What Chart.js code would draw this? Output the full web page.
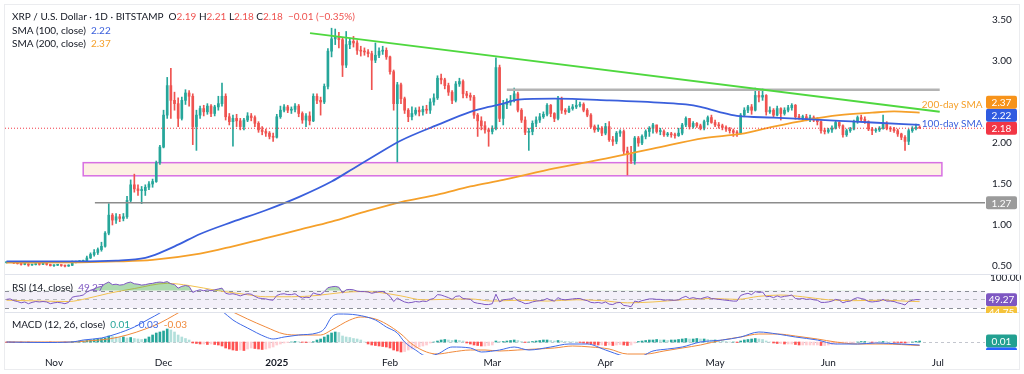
<!DOCTYPE html>
<html>
<head>
<meta charset="utf-8">
<title>XRP / U.S. Dollar · 1D · BITSTAMP</title>
<script src="https://cdn.jsdelivr.net/npm/chart.js@4.4.1/dist/chart.umd.min.js"></script>
<style>
    html, body { margin: 0; padding: 0; background: #ffffff; }
    #chart-wrap { position: relative; width: 1024px; height: 374px; overflow: hidden; background: #ffffff; }
    #chart-wrap canvas { position: absolute; left: 0; }
    #frame { position: absolute; left: 4px; top: 4px; width: 1016px; height: 366px; border: 1px solid #ebecef; box-sizing: border-box; pointer-events: none; }
</style>
</head>
<body>
<div id="chart-wrap">
    <canvas id="price-chart" width="1024" height="275" style="top:0;width:1024px;height:275px"></canvas>
    <canvas id="rsi-chart" width="1024" height="38" style="top:275px;width:1024px;height:38px"></canvas>
    <canvas id="macd-chart" width="1024" height="61" style="top:313px;width:1024px;height:61px"></canvas>
    <div id="frame"></div>
</div>
<script>
// Daily candles, index 0 = 19 Oct 2024 ... 250 = 26 Jun 2025
const firstOpen = 0.54;
const closes = [
    0.545, 0.548, 0.536, 0.530, 0.519, 0.522, 0.512, 0.517, 0.522, 0.520, 0.521, 0.519, 0.503,
    0.509, 0.510, 0.506, 0.499, 0.508,
    0.544, 0.551, 0.555, 0.563, 0.598, 0.64, 0.665, 0.70, 0.74, 0.90,
    1.12, 1.06, 1.10, 1.08, 1.10,
    1.30, 1.49, 1.44, 1.42, 1.42, 1.46, 1.50, 1.53, 1.76, 1.95,
    2.34, 2.70, 2.52, 2.48, 2.30, 2.52, 2.61, 2.57, 2.20, 2.34,
    2.42, 2.38, 2.45, 2.36, 2.44, 2.48, 2.57, 2.32, 2.26, 2.30,
    2.27, 2.20, 2.28, 2.33, 2.31, 2.24, 2.16, 2.14, 2.12, 2.08, 2.07,
    2.32, 2.40, 2.44, 2.40, 2.41, 2.45, 2.36, 2.28, 2.33, 2.27,
    2.57, 2.52, 2.50, 2.69, 3.12, 3.27, 3.30, 3.26, 2.95, 3.20,
    3.24, 3.22, 3.13, 3.12, 3.11, 3.09, 3.01, 3.07, 3.12, 3.13, 3.05,
    2.87, 2.48, 2.71, 2.54, 2.40, 2.32, 2.36, 2.40, 2.38, 2.41,
    2.40, 2.50, 2.55, 2.79, 2.77, 2.70, 2.62, 2.52, 2.72, 2.75,
    2.60, 2.58, 2.56, 2.34, 2.27, 2.21, 2.16, 2.14,
    2.18, 2.92, 2.30, 2.47, 2.50, 2.52, 2.60, 2.40, 2.28, 2.13,
    2.14, 2.24, 2.28, 2.32, 2.35, 2.46, 2.36, 2.30, 2.54, 2.40,
    2.38, 2.42, 2.44, 2.46, 2.47, 2.40, 2.34, 2.20, 2.16, 2.18, 2.12,
    2.20, 2.04, 2.02, 2.12, 2.14, 1.90, 1.86, 1.78, 2.06, 2.00,
    2.08, 2.14, 2.18, 2.22, 2.14, 2.14, 2.10, 2.11, 2.10, 2.09,
    2.12, 2.22, 2.30, 2.20, 2.24, 2.21, 2.18, 2.26, 2.31, 2.25,
    2.22, 2.21, 2.19, 2.17, 2.15, 2.13, 2.12, 2.34, 2.40, 2.44, 2.40,
    2.58, 2.56, 2.58, 2.38, 2.40, 2.34, 2.42, 2.36, 2.40, 2.43,
    2.46, 2.32, 2.31, 2.32, 2.29, 2.31, 2.28, 2.26, 2.15, 2.14,
    2.16, 2.18, 2.25, 2.21, 2.10, 2.15, 2.17, 2.26, 2.31, 2.29,
    2.26, 2.17, 2.15, 2.16, 2.18, 2.24, 2.18, 2.17, 2.15, 2.11,
    2.07, 2.02, 2.15, 2.18, 2.19, 2.18
];
const highs = [
    0.55, 0.555, 0.552, 0.54, 0.533, 0.528, 0.528, 0.52, 0.525, 0.525, 0.535, 0.53, 0.522,
    0.514, 0.518, 0.512, 0.51, 0.515,
    0.56, 0.56, 0.565, 0.572, 0.62, 0.66, 0.70, 0.72, 0.79, 0.92,
    1.26, 1.14, 1.14, 1.13, 1.14,
    1.35, 1.55, 1.62, 1.49, 1.47, 1.49, 1.53, 1.56, 1.78, 1.97,
    2.40, 2.80, 2.91, 2.62, 2.55, 2.56, 2.65, 2.64, 2.60, 2.40,
    2.45, 2.46, 2.48, 2.47, 2.46, 2.57, 2.73, 2.60, 2.36, 2.34,
    2.35, 2.30, 2.30, 2.37, 2.36, 2.33, 2.26, 2.20, 2.17, 2.14, 2.12,
    2.35, 2.45, 2.47, 2.46, 2.44, 2.48, 2.47, 2.38, 2.36, 2.38,
    2.60, 2.60, 2.56, 2.72, 3.15, 3.40, 3.39, 3.35, 3.28, 3.36,
    3.28, 3.30, 3.25, 3.18, 3.16, 3.14, 3.12, 3.22, 3.16, 3.18, 3.16,
    3.06, 2.89, 2.74, 2.73, 2.56, 2.42, 2.44, 2.43, 2.44, 2.45,
    2.46, 2.54, 2.60, 2.82, 2.84, 2.79, 2.73, 2.64, 2.75, 2.79,
    2.77, 2.63, 2.61, 2.58, 2.36, 2.32, 2.26, 2.18,
    2.21, 3.04, 2.95, 2.52, 2.54, 2.58, 2.67, 2.62, 2.42, 2.32,
    2.18, 2.27, 2.32, 2.36, 2.38, 2.48, 2.47, 2.37, 2.57, 2.56,
    2.42, 2.45, 2.47, 2.52, 2.50, 2.49, 2.42, 2.36, 2.22, 2.22, 2.20,
    2.24, 2.26, 2.08, 2.14, 2.16, 2.16, 1.95, 1.96, 2.08, 2.08,
    2.10, 2.16, 2.20, 2.24, 2.22, 2.18, 2.16, 2.13, 2.13, 2.12,
    2.18, 2.24, 2.32, 2.30, 2.26, 2.25, 2.23, 2.28, 2.33, 2.34,
    2.28, 2.25, 2.23, 2.21, 2.19, 2.17, 2.15, 2.36, 2.43, 2.46, 2.47,
    2.67, 2.65, 2.66, 2.59, 2.44, 2.42, 2.45, 2.43, 2.43, 2.46,
    2.48, 2.47, 2.35, 2.34, 2.35, 2.34, 2.33, 2.31, 2.27, 2.18,
    2.18, 2.21, 2.27, 2.26, 2.22, 2.17, 2.19, 2.28, 2.33, 2.34,
    2.32, 2.27, 2.19, 2.18, 2.20, 2.34, 2.26, 2.20, 2.19, 2.17,
    2.12, 2.09, 2.17, 2.20, 2.23, 2.21
];
const lows = [
    0.535, 0.54, 0.53, 0.523, 0.51, 0.514, 0.497, 0.508, 0.512, 0.51, 0.515, 0.51, 0.50,
    0.495, 0.505, 0.496, 0.49, 0.495,
    0.505, 0.537, 0.545, 0.55, 0.56, 0.59, 0.62, 0.64, 0.68, 0.73,
    0.88, 1.00, 1.02, 1.04, 1.05,
    1.08, 1.28, 1.40, 1.36, 1.26, 1.36, 1.43, 1.46, 1.52, 1.74,
    1.94, 2.30, 2.30, 2.40, 2.20, 2.28, 2.47, 2.45, 1.98, 1.91,
    2.30, 2.33, 2.35, 2.32, 2.33, 2.40, 2.45, 2.28, 2.22, 1.96,
    2.20, 2.16, 2.16, 2.26, 2.27, 2.20, 2.13, 2.10, 2.08, 2.05, 2.02,
    2.06, 2.30, 2.38, 2.37, 2.36, 2.38, 2.32, 2.24, 2.20, 2.22,
    2.26, 2.48, 2.34, 2.48, 2.66, 3.05, 3.20, 3.16, 2.81, 2.92,
    3.15, 3.17, 3.08, 3.06, 3.07, 3.05, 2.65, 2.98, 3.04, 3.08, 3.02,
    2.84, 2.40, 1.77, 2.48, 2.36, 2.26, 2.28, 2.34, 2.33, 2.34,
    2.36, 2.36, 2.46, 2.53, 2.72, 2.66, 2.58, 2.48, 2.50, 2.69,
    2.55, 2.55, 2.52, 2.30, 2.08, 2.16, 2.12, 1.96,
    2.11, 2.16, 2.26, 2.22, 2.42, 2.46, 2.50, 2.38, 2.25, 2.10,
    1.91, 2.10, 2.20, 2.25, 2.30, 2.33, 2.32, 2.26, 2.28, 2.36,
    2.35, 2.37, 2.40, 2.42, 2.44, 2.38, 2.32, 2.18, 2.13, 2.14, 2.09,
    2.10, 2.02, 1.97, 1.99, 2.08, 1.86, 1.61, 1.75, 1.74, 1.96,
    1.98, 2.05, 2.08, 2.12, 2.12, 2.10, 2.08, 2.08, 2.07, 2.06,
    2.08, 2.10, 2.20, 2.17, 2.18, 2.19, 2.16, 2.16, 2.22, 2.24,
    2.20, 2.18, 2.16, 2.14, 2.12, 2.08, 2.08, 2.11, 2.32, 2.37, 2.35,
    2.39, 2.50, 2.52, 2.34, 2.36, 2.32, 2.33, 2.28, 2.34, 2.38,
    2.40, 2.29, 2.29, 2.27, 2.27, 2.26, 2.26, 2.22, 2.12, 2.11,
    2.12, 2.13, 2.17, 2.19, 2.07, 2.08, 2.13, 2.16, 2.24, 2.26,
    2.24, 2.15, 2.10, 2.13, 2.14, 2.17, 2.16, 2.14, 2.13, 2.08,
    2.04, 1.91, 1.98, 2.13, 2.16, 2.18
];

// Moving averages (day index, value)
const sma100Days = [0, 20, 30, 38, 42, 47, 53, 62, 71, 80, 89, 95, 101, 108, 118, 127, 132, 136, 140, 150, 165, 180, 186, 190, 195, 200, 210, 219, 228, 237, 250];
const sma100Values = [0.555, 0.555, 0.565, 0.60, 0.66, 0.76, 0.89, 1.04, 1.18, 1.34, 1.53, 1.69, 1.85, 2.03, 2.22, 2.38, 2.44, 2.48, 2.53, 2.54, 2.52, 2.49, 2.47, 2.44, 2.38, 2.33, 2.31, 2.29, 2.27, 2.25, 2.22];
const sma200Days = [0, 20, 30, 40, 53, 62, 71, 80, 89, 98, 108, 118, 127, 136, 150, 164, 177, 191, 201, 210, 219, 228, 237, 243, 250];
const sma200Values = [0.54, 0.545, 0.555, 0.575, 0.65, 0.74, 0.84, 0.94, 1.04, 1.16, 1.28, 1.37, 1.47, 1.55, 1.69, 1.81, 1.93, 2.06, 2.11, 2.20, 2.28, 2.34, 2.37, 2.385, 2.37];

// RSI (14) daily and its moving average
const rsiValues = [
    50, 51, 47, 45, 42, 44, 40, 43, 45, 44, 45, 44, 40, 42, 43, 42, 40, 43,
    55, 57, 58, 60, 67, 71, 74, 78, 80, 86, 90, 84, 85, 83, 84, 88, 90, 86, 85, 83,
    84, 86, 87, 89, 90, 89, 91, 86, 84, 76, 80, 82, 80, 66, 70, 72,
    70, 72, 70, 72, 74, 76, 64, 62, 63, 61, 58, 61, 63, 62, 57, 53, 52, 51, 49, 48,
    59, 62, 63, 61, 61, 63, 57, 53, 55, 54, 65, 62, 61, 68, 77, 79, 80, 78,
    65, 72, 73, 72, 69, 68, 68, 67, 64, 66, 68, 68, 64,
    57, 45, 53, 48, 44, 42, 43, 45, 44, 46, 45, 50, 52, 61, 60, 57, 54, 50, 57, 58,
    52, 51, 50, 43, 41, 40, 38, 38, 40, 62, 44, 49, 50, 51, 54, 47, 44, 40, 41, 44,
    46, 47, 48, 52, 48, 46, 54, 50, 49, 50, 51, 52, 52, 49, 47, 43, 42, 43, 41, 44,
    39, 38, 42, 43, 36, 35, 33, 46, 44, 47, 49, 51, 51, 50, 50, 48, 49, 48, 48, 49,
    54, 57, 52, 54, 52, 51, 54, 56, 52, 51, 50, 49, 48, 47, 46, 46,
    59, 62, 64, 61, 68, 66, 67, 56, 57, 54, 58, 55, 57, 58, 60, 52, 51, 52, 50, 51,
    49, 48, 43, 43, 44, 46, 50, 48, 42, 45, 46, 51, 54, 52, 50, 45, 44, 45, 46, 50,
    46, 46, 45, 42, 40, 37, 45, 48, 49.5, 49.27
];
const rsiMaDays = [0, 10, 17, 22, 28, 35, 44, 50, 58, 65, 71, 78, 85, 92, 97, 102, 108, 114, 120, 127, 133, 140, 148, 156, 163, 170, 177, 185, 193, 200, 206, 212, 218, 225, 232, 240, 246, 250];
const rsiMaValues = [48, 46, 45, 52, 64, 75, 87, 82, 70, 62, 56, 56, 59, 66, 68, 66, 58, 49, 50, 51, 46, 48, 46, 49, 47, 42, 44, 49, 52, 50, 57, 60, 56, 49, 47, 48, 46, 44.75];

// MACD (12, 26, close)
const macdDays = [0, 10, 18, 21, 26, 30, 35, 39, 42, 44, 48, 52, 56, 59, 62, 66, 71, 73, 76, 80, 85, 87, 89, 91, 96, 101, 104, 107, 109, 112, 115, 118, 122, 127, 130, 135, 139, 143, 149, 154, 159, 164, 169, 173, 177, 181, 185, 190, 196, 201, 206, 211, 216, 222, 227, 233, 238, 245, 250];
const macdValues = [0, -0.005, 0, 0.02, 0.04, 0.08, 0.15, 0.23, 0.29, 0.34, 0.45, 0.45, 0.38, 0.31, 0.22, 0.14, 0.05, 0.03, 0.05, 0.07, 0.09, 0.13, 0.25, 0.28, 0.27, 0.22, 0.15, 0.09, 0, -0.08, -0.14, -0.12, -0.05, -0.06, -0.10, -0.08, -0.05, -0.08, -0.05, -0.02, -0.02, -0.08, -0.14, -0.15, -0.09, -0.07, -0.05, 0, 0.02, 0.05, 0.10, 0.08, 0.05, 0.02, -0.02, -0.02, -0.01, -0.02, -0.03];
const signalDays = [0, 18, 22, 28, 33, 38, 42, 46, 50, 56, 62, 66, 71, 76, 80, 86, 89, 94, 97, 101, 104, 108, 111, 115, 118, 122, 127, 131, 135, 140, 145, 150, 155, 160, 165, 170, 175, 180, 185, 190, 196, 201, 206, 211, 216, 222, 227, 233, 240, 250];
const signalValues = [0, 0, 0.01, 0.03, 0.07, 0.13, 0.19, 0.27, 0.35, 0.40, 0.30, 0.23, 0.15, 0.08, 0.07, 0.07, 0.12, 0.22, 0.25, 0.23, 0.18, 0.08, -0.02, -0.10, -0.12, -0.10, -0.08, -0.08, -0.09, -0.08, -0.07, -0.06, -0.04, -0.05, -0.07, -0.12, -0.12, -0.09, -0.06, -0.03, 0.02, 0.05, 0.08, 0.08, 0.06, 0.03, 0, -0.02, -0.02, -0.035];
const histValues = [
    -0.003, -0.004, -0.005, -0.005, -0.006, -0.005, -0.006, -0.005, -0.004, -0.003, -0.003, -0.002, -0.003, -0.002, -0.002, -0.002, -0.003, -0.002,
    0.004, 0.006, 0.008, 0.01, 0.015, 0.02, 0.025, 0.03, 0.035, 0.04, 0.06, 0.055, 0.05,
    0.045, 0.05, 0.04, 0.045, 0.035, 0.03, 0.025, 0.03,
    0.05, 0.07, 0.09, 0.1, 0.11, 0.13, 0.12,
    0.1, 0.07, 0.05, 0.035, 0.02,
    -0.01, -0.015, -0.02, -0.02, -0.025, -0.02, -0.025,
    -0.03, -0.04, -0.06, -0.07, -0.08, -0.085, -0.08, -0.085,
    -0.07, -0.06, -0.065, -0.07, -0.075, -0.07, -0.06, -0.05,
    -0.03, -0.02, -0.01, -0.005, 0, 0.005, 0.002, -0.003, -0.005, -0.004, 0.003,
    0.02, 0.03, 0.05, 0.07, 0.09, 0.1, 0.095,
    0.06, 0.05, 0.045, 0.035, 0.03, 0.02,
    0, -0.02, -0.03, -0.035, -0.04, -0.045, -0.05, -0.06, -0.08, -0.09, -0.1, -0.095,
    -0.08, -0.07, -0.06, -0.05, -0.04, -0.03,
    -0.01, 0, 0.01, 0.02, 0.025, 0.02, 0.015, 0.02, 0.015, 0.01,
    -0.01, -0.02, -0.03, -0.035, -0.04, -0.04, -0.035, -0.03,
    0.01, 0.005, 0.005, 0.01, 0.015, 0.02, 0.015,
    0.005, -0.005, 0, 0.005, 0.01, 0.015, 0.02, 0.02, 0.015, 0.01,
    0.015, 0.01, 0.005, 0.003, 0.002, 0, -0.005, -0.01, -0.015, -0.02,
    -0.025, -0.03, -0.03, -0.035, -0.03, -0.035, -0.03, -0.025, -0.03, -0.035,
    -0.03, -0.01, 0.005, 0.01, 0.015, 0.02, 0.02, 0.025, 0.02, 0.02,
    0.015, 0.02, 0.02, 0.025, 0.03, 0.035, 0.03, 0.03, 0.035, 0.03, 0.03, 0.025, 0.02, 0.02, 0.015,
    0.01, 0.005, 0, 0, -0.005, 0.01, 0.02, 0.025, 0.03, 0.035, 0.03, 0.025,
    0.01, 0, -0.01, -0.015, -0.015, -0.02, -0.02, -0.02, -0.025, -0.03, -0.03, -0.03, -0.03, -0.03, -0.03, -0.035, -0.035, -0.03,
    -0.025, -0.02, -0.015, -0.015, -0.01, -0.01, -0.005, 0, 0.005, 0.005, 0, -0.005, -0.005, 0, 0.005, 0.003, 0, -0.003, -0.005, -0.008,
    -0.01, -0.005, 0, 0.006, 0.01
];

// Drawings on the price pane (day index / price)
const trendDays = [83.1, 255.5];
const trendPrices = [3.34, 2.38];
const resistanceDays = [137, 255.5];
const resistanceLevel = 2.65;
const supportDays = [24.2, 267.9];
const supportLevel = 1.27;
const zoneDays = [21, 256.1];
const zonePrices = [1.60, 1.76];

// Axes
const priceTicks = [0.5, 1.0, 1.5, 2.0, 3.0, 3.5];
const monthTicks = [13, 43, 74, 105, 133, 164, 194, 225, 255];
const monthLabels = ['Nov', 'Dec', '2025', 'Feb', 'Mar', 'Apr', 'May', 'Jun', 'Jul'];

// Legend texts
const headerTitle = 'XRP / U.S. Dollar · 1D · BITSTAMP';
const headerOHLC = [['O', '2.19'], ['H', '2.21'], ['L', '2.18'], ['C', '2.18']];
const headerChange = '−0.01 (−0.35%)';
const macdLegend = ['0.01', '-0.03', '-0.03'];

// View ranges (match the panes of the reference)
const X_MIN = -0.41, X_MAX = 267.9;
const PRICE_MIN = 0.39, PRICE_MAX = 3.683;
const RSI_MIN = 18.5, RSI_MAX = 106.3;
const MACD_MIN = -0.13, MACD_MAX = 0.29;

// Colours
const UP = '#26a69a', DOWN = '#ef5350';
const TEXT = '#131722';
const BLUE = '#3a5fdc', ORANGE = '#f5a02a', GREEN_LINE = '#4fd83f';
const RSI_COLOR = '#7e57c2', RSI_MA = '#f2c14e';
const MACD_BLUE = '#3f6ae8', MACD_ORANGE = '#f08a3c';

Chart.defaults.font.family = "Lato, 'Liberation Sans', sans-serif";
Chart.defaults.font.size = 10;
Chart.defaults.color = TEXT;
Chart.defaults.animation = false;
Chart.defaults.events = [];
Chart.defaults.plugins.legend.display = false;
Chart.defaults.plugins.tooltip.enabled = false;

const dayIdx = closes.map((_, i) => i);
const opens = closes.map((c, i) => (i === 0 ? firstOpen : closes[i - 1]));
const candleColors = closes.map((c, i) => (c >= opens[i] ? UP : DOWN));
const lastClose = closes[closes.length - 1];

function pts(days, values) {
    return days.map((d, k) => ({ x: d, y: values[k] }));
}

function hiddenX() {
    return { type: 'linear', min: X_MIN, max: X_MAX, display: false, offset: false, grid: { display: false } };
}

function lineSet(data, color, width, extra) {
    return Object.assign({
        type: 'line', data: data, borderColor: color, borderWidth: width,
        pointRadius: 0, fill: false, order: 0
    }, extra || {});
}

function drawSegments(ctx, x, y, segments) {
    segments.forEach(([text, color]) => {
        ctx.fillStyle = color;
        ctx.fillText(text, x, y);
        x += ctx.measureText(text).width;
    });
}

// Value tags on the right axis, pushed apart so they don't overlap
function drawTags(ctx, tags, direction, clipTop, clipBottom) {
    ctx.save();
    ctx.beginPath();
    ctx.rect(984, clipTop, 40, clipBottom - clipTop);
    ctx.clip();
    ctx.font = "10px Lato, 'Liberation Sans', sans-serif";
    ctx.textAlign = 'center';
    ctx.textBaseline = 'middle';
    let prev = null;
    tags.forEach(tag => {
        let y = tag.y;
        if (prev !== null) {
            y = direction < 0 ? Math.min(y, prev - 13) : Math.max(y, prev + 13);
        }
        prev = y;
        ctx.fillStyle = tag.color;
        ctx.beginPath();
        ctx.roundRect(986, y - 6.5, 31, 13, 2);
        ctx.fill();
        ctx.fillStyle = '#ffffff';
        ctx.fillText(tag.text, 1001.5, y + 0.5);
    });
    ctx.restore();
}

// ---------- price pane ----------
const pricePane = {
    id: 'pricePane',
    beforeDatasetsDraw(chart) {
        const { ctx, scales: { x, y } } = chart;
        const left = x.getPixelForValue(zoneDays[0]), right = x.getPixelForValue(zoneDays[1]);
        const top = y.getPixelForValue(zonePrices[1]), bottom = y.getPixelForValue(zonePrices[0]);
        ctx.save();
        ctx.fillStyle = '#fdf0e3';
        ctx.fillRect(left, top, right - left, bottom - top);
        ctx.strokeStyle = '#d770e3';
        ctx.lineWidth = 1.5;
        ctx.strokeRect(left, top, right - left, bottom - top);
        ctx.restore();
    },
    afterDraw(chart) {
        const { ctx, chartArea: a, scales: { x, y } } = chart;
        ctx.save();
        ctx.font = "10px Lato, 'Liberation Sans', sans-serif";
        ctx.textBaseline = 'middle';

        // price scale labels
        ctx.fillStyle = TEXT;
        ctx.textAlign = 'left';
        priceTicks.forEach(v => ctx.fillText(v.toFixed(2), 992, y.getPixelForValue(v)));

        // SMA notes next to the lines
        ctx.fillStyle = ORANGE;
        ctx.fillText('200-day SMA', x.getPixelForValue(250.6), y.getPixelForValue(2.46));
        ctx.fillStyle = BLUE;
        ctx.fillText('100-day SMA', x.getPixelForValue(250.6), y.getPixelForValue(2.24));

        // legend
        const ohlc = [];
        headerOHLC.forEach(([k, v]) => { ohlc.push([' ' + k, TEXT]); ohlc.push([v, DOWN]); });
        drawSegments(ctx, 12, 17, [[headerTitle, TEXT], [' ', TEXT]].concat(ohlc, [['  ' + headerChange, DOWN]]));
        drawSegments(ctx, 12, 31, [['SMA (100, close)', TEXT], ['  ' + sma100Values[sma100Values.length - 1].toFixed(2), BLUE]]);
        drawSegments(ctx, 12, 44, [['SMA (200, close)', TEXT], ['  ' + sma200Values[sma200Values.length - 1].toFixed(2), ORANGE]]);

        // pane separator
        ctx.strokeStyle = '#e0e3eb';
        ctx.lineWidth = 1;
        ctx.beginPath();
        ctx.moveTo(4, a.bottom - 0.5);
        ctx.lineTo(1020, a.bottom - 0.5);
        ctx.stroke();
        ctx.restore();

        drawTags(ctx, [
            { y: y.getPixelForValue(lastClose), text: lastClose.toFixed(2), color: '#f23645' },
            { y: y.getPixelForValue(sma100Values[sma100Values.length - 1]), text: sma100Values[sma100Values.length - 1].toFixed(2), color: '#2f5be0' },
            { y: y.getPixelForValue(sma200Values[sma200Values.length - 1]), text: sma200Values[sma200Values.length - 1].toFixed(2), color: '#f7931a' }
        ], -1, a.top, a.bottom);
        drawTags(ctx, [{ y: y.getPixelForValue(supportLevel), text: supportLevel.toFixed(2), color: '#9b9b9b' }], -1, a.top, a.bottom);
    }
};

new Chart(document.getElementById('price-chart'), {
    type: 'bar',
    data: {
        datasets: [
            lineSet(pts(trendDays, trendPrices), GREEN_LINE, 2),
            lineSet(pts(resistanceDays, [resistanceLevel, resistanceLevel]), '#b3b3b3', 2.5),
            lineSet(pts(supportDays, [supportLevel, supportLevel]), '#8c8c8c', 1.5),
            lineSet(pts([X_MIN, X_MAX], [lastClose, lastClose]), '#f23645', 1, { borderDash: [1, 2] }),
            lineSet(pts(sma100Days, sma100Values), BLUE, 1.8, { cubicInterpolationMode: 'monotone' }),
            lineSet(pts(sma200Days, sma200Values), ORANGE, 1.8, { cubicInterpolationMode: 'monotone' }),
            {
                label: 'bodies',
                data: dayIdx.map(i => ({ x: i, y: [opens[i], closes[i]] })),
                backgroundColor: candleColors,
                barThickness: 2,
                minBarLength: 1,
                grouped: false,
                order: 1
            },
            {
                label: 'wicks',
                data: dayIdx.map(i => ({ x: i, y: [lows[i], highs[i]] })),
                backgroundColor: candleColors,
                barThickness: 1,
                grouped: false,
                order: 2
            }
        ]
    },
    options: {
        responsive: false,
        layout: { padding: { left: 5, right: 39, top: 5, bottom: 0 } },
        scales: {
            x: hiddenX(),
            y: { type: 'linear', display: false, min: PRICE_MIN, max: PRICE_MAX }
        }
    },
    plugins: [pricePane]
});

// ---------- RSI pane ----------
const rsiPane = {
    id: 'rsiPane',
    beforeDatasetsDraw(chart) {
        const { ctx, chartArea: a, scales: { y } } = chart;
        const y70 = y.getPixelForValue(70), y50 = y.getPixelForValue(50), y30 = y.getPixelForValue(30);
        ctx.save();
        ctx.fillStyle = 'rgba(126, 87, 194, 0.09)';
        ctx.fillRect(a.left, y70, a.right - a.left, y30 - y70);
        ctx.lineWidth = 1;
        ctx.setLineDash([4, 4]);
        [[y70, '#8a8d96'], [y50, '#b7b9c0'], [y30, '#8a8d96']].forEach(([yy, c]) => {
            ctx.strokeStyle = c;
            ctx.beginPath();
            ctx.moveTo(a.left, Math.round(yy) + 0.5);
            ctx.lineTo(a.right, Math.round(yy) + 0.5);
            ctx.stroke();
        });
        ctx.restore();
    },
    afterDraw(chart) {
        const { ctx, chartArea: a, scales: { y } } = chart;
        ctx.save();
        ctx.font = "10px Lato, 'Liberation Sans', sans-serif";
        ctx.textBaseline = 'middle';
        ctx.textAlign = 'left';
        ctx.fillStyle = TEXT;
        ctx.fillText('100.00', 990, y.getPixelForValue(100));
        drawSegments(ctx, 12, 13, [['RSI (14, close)', TEXT], ['  ' + rsiValues[rsiValues.length - 1].toFixed(2), RSI_COLOR]]);
        ctx.strokeStyle = '#e0e3eb';
        ctx.beginPath();
        ctx.moveTo(4, a.bottom - 0.5);
        ctx.lineTo(1020, a.bottom - 0.5);
        ctx.stroke();
        ctx.restore();
        drawTags(ctx, [
            { y: y.getPixelForValue(rsiValues[rsiValues.length - 1]), text: rsiValues[rsiValues.length - 1].toFixed(2), color: RSI_COLOR },
            { y: y.getPixelForValue(rsiMaValues[rsiMaValues.length - 1]), text: rsiMaValues[rsiMaValues.length - 1].toFixed(2), color: '#f5c33b' }
        ], 1, a.top, a.bottom);
    }
};

new Chart(document.getElementById('rsi-chart'), {
    type: 'line',
    data: {
        datasets: [
            lineSet(dayIdx.map(i => ({ x: i, y: rsiValues[i] })), RSI_COLOR, 1, {
                fill: { target: { value: 70 }, above: 'rgba(76, 175, 80, 0.45)', below: 'rgba(0, 0, 0, 0)' }
            }),
            lineSet(pts(rsiMaDays, rsiMaValues), RSI_MA, 1, { cubicInterpolationMode: 'monotone', order: 1 })
        ]
    },
    options: {
        responsive: false,
        layout: { padding: { left: 5, right: 39, top: 0, bottom: 0 } },
        scales: {
            x: hiddenX(),
            y: { type: 'linear', display: false, min: RSI_MIN, max: RSI_MAX }
        }
    },
    plugins: [rsiPane]
});

// ---------- MACD pane + time axis ----------
const histColors = histValues.map((v, i) => {
    const prev = i > 0 ? histValues[i - 1] : 0;
    if (v >= 0) return v >= prev ? UP : '#b2dfdb';
    return v < prev ? '#ff5252' : '#ffcdd2';
});

const macdPane = {
    id: 'macdPane',
    beforeDatasetsDraw(chart) {
        const { ctx, chartArea: a, scales: { y } } = chart;
        const y0 = Math.round(y.getPixelForValue(0)) + 0.5;
        ctx.save();
        ctx.strokeStyle = '#c3c6ce';
        ctx.setLineDash([3, 3]);
        ctx.beginPath();
        ctx.moveTo(a.left, y0);
        ctx.lineTo(a.right, y0);
        ctx.stroke();
        ctx.restore();
    },
    afterDraw(chart) {
        const { ctx, chartArea: a, scales: { y } } = chart;
        ctx.save();
        ctx.font = "10px Lato, 'Liberation Sans', sans-serif";
        ctx.textBaseline = 'middle';
        ctx.textAlign = 'left';
        drawSegments(ctx, 12, 12, [
            ['MACD (12, 26, close)', TEXT],
            ['  ' + macdLegend[0], UP],
            ['  ' + macdLegend[1], MACD_BLUE],
            ['  ' + macdLegend[2], MACD_ORANGE]
        ]);
        ctx.restore();
        // the lower tags sit partly under the pane edge, as in the reference
        drawTags(ctx, [
            { y: y.getPixelForValue(histValues[histValues.length - 1]), text: histValues[histValues.length - 1].toFixed(2), color: '#22a091' },
            { y: y.getPixelForValue(macdValues[macdValues.length - 1]), text: macdValues[macdValues.length - 1].toFixed(2), color: '#2962ff' }
        ], 1, a.top, a.bottom - 5);
    }
};

new Chart(document.getElementById('macd-chart'), {
    type: 'bar',
    data: {
        datasets: [
            lineSet(pts(macdDays, macdValues), MACD_BLUE, 1, { cubicInterpolationMode: 'monotone' }),
            lineSet(pts(signalDays, signalValues), MACD_ORANGE, 1, { cubicInterpolationMode: 'monotone', order: 1 }),
            {
                label: 'histogram',
                data: dayIdx.map(i => ({ x: i, y: histValues[i] })),
                backgroundColor: histColors,
                barThickness: 2,
                grouped: false,
                order: 2
            }
        ]
    },
    options: {
        responsive: false,
        layout: { padding: { left: 5, right: 39, top: 0, bottom: 0 } },
        scales: {
            x: {
                type: 'linear',
                min: X_MIN,
                max: X_MAX,
                offset: false,
                grid: { display: false, drawTicks: false },
                border: { display: false },
                afterBuildTicks: scale => { scale.ticks = monthTicks.map(v => ({ value: v })); },
                afterFit: scale => { scale.height = 19; },
                ticks: {
                    autoSkip: false,
                    maxRotation: 0,
                    padding: 2,
                    color: TEXT,
                    font: ctx => (ctx.tick && ctx.tick.value === 74 ? { size: 10, weight: 'bold' } : { size: 10 }),
                    callback: (value, index) => monthLabels[index]
                }
            },
            y: { type: 'linear', display: false, min: MACD_MIN, max: MACD_MAX }
        }
    },
    plugins: [macdPane]
});
</script>
</body>
</html>
